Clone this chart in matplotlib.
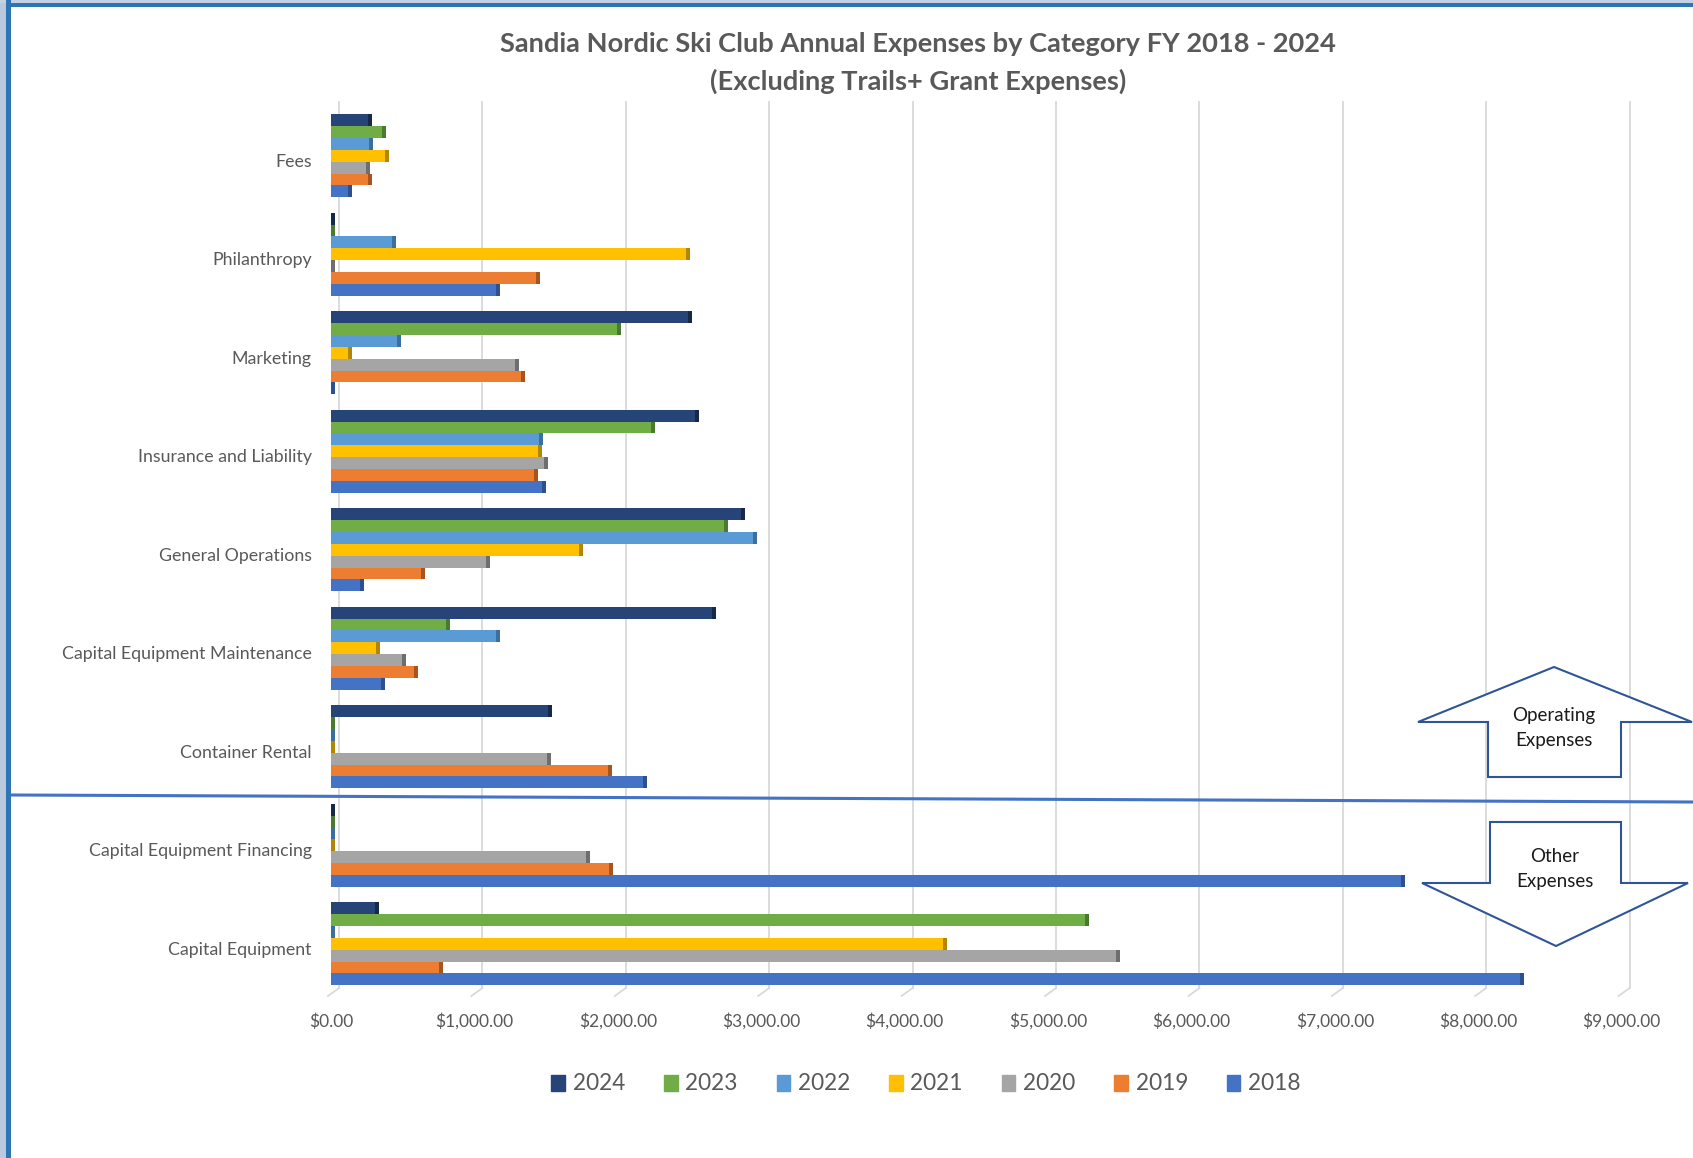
import matplotlib
matplotlib.use("Agg")
import matplotlib.pyplot as plt
import matplotlib.transforms as mtransforms
from matplotlib.patches import Rectangle, Polygon
from matplotlib.lines import Line2D
import numpy as np

# ---------------- data ----------------
categories = ["Fees", "Philanthropy", "Marketing", "Insurance and Liability",
              "General Operations", "Capital Equipment Maintenance",
              "Container Rental", "Capital Equipment Financing", "Capital Equipment"]
years = ["2024", "2023", "2022", "2021", "2020", "2019", "2018"]
v2024 = [256, 0, 2492, 2538, 2858, 2657, 1510, 0, 308]
v2023 = [358, 0, 1994, 2232, 2738, 800, 0, 0, 5255]
v2022 = [267, 425, 460, 1450, 2941, 1149, 0, 0, 0]
v2021 = [378, 2473, 121, 1445, 1729, 314, 0, 0, 4270]
v2020 = [246, 0, 1281, 1485, 1079, 495, 1503, 1778, 5475]
v2019 = [256, 1427, 1327, 1416, 626, 582, 1933, 1939, 750]
v2018 = [121, 1153, 0, 1471, 202, 352, 2176, 7459, 8290]
series = [v2024, v2023, v2022, v2021, v2020, v2019, v2018]
xticks = [0, 1000, 2000, 3000, 4000, 5000, 6000, 7000, 8000, 9000]
xtick_labels = ["$0.00", "$1,000.00", "$2,000.00", "$3,000.00", "$4,000.00",
                "$5,000.00", "$6,000.00", "$7,000.00", "$8,000.00", "$9,000.00"]
title1 = "Sandia Nordic Ski Club Annual Expenses by Category FY 2018 - 2024"
title2 = "(Excluding Trails+ Grant Expenses)"

colors = ["#264478", "#70AD47", "#5B9BD5", "#FFC000", "#A5A5A5", "#ED7D31", "#4472C4"]
side_colors = ["#17294A", "#4A7A2C", "#3A6F9E", "#B38600", "#6E6E6E", "#A9541C", "#2C5090"]

FONT = ["Lato", "DejaVu Sans"]
plt.rcParams["font.family"] = FONT
TEXT_GRAY = "#595959"

W, H = 1693, 1158
fig = plt.figure(figsize=(W / 100, H / 100), dpi=100)
fig.patch.set_facecolor("white")


def fx(x):
    return x / W


def fy(y):
    return 1 - y / H


ax_left, ax_right, ax_top, ax_bottom = 331, 1621.6, 106.5, 993
ax = fig.add_axes([fx(ax_left), fy(ax_bottom), fx(ax_right) - fx(ax_left),
                   (ax_bottom - ax_top) / H])
ax.set_facecolor("none")
ax.set_xlim(0, 9000)
ax.set_ylim(8.5, -0.5)
for s in ax.spines.values():
    s.set_visible(False)

# gridlines (back wall, offset up/right like Excel 3-D)
dpp = 9000 / (ax_right - ax_left)  # dollars per pixel
ah = ax_bottom - ax_top
blend = mtransforms.blended_transform_factory(ax.transData, ax.transAxes)
g_top = (ax_bottom - 102) / ah
g_bot = (ax_bottom - 988) / ah
t_bot = (ax_bottom - 996) / ah
for v in xticks:
    ax.plot([v + 8 * dpp, v + 8 * dpp], [g_bot, g_top], transform=blend,
            color="#D9D9D9", lw=1.3, zorder=0, clip_on=False)
    ax.plot([v - 3 * dpp, v + 8 * dpp], [t_bot, g_bot], transform=blend,
            color="#D9D9D9", lw=1.3, zorder=0, clip_on=False)

# bars
group = 0.843
h = group / len(series)
ypos = np.arange(len(categories))
side = 4 * dpp
for k, (vals, c, sc, yr) in enumerate(zip(series, colors, side_colors, years)):
    y = ypos - group / 2 + h * (k + 0.5)
    ax.barh(y, vals, height=h, color=c, edgecolor="none", zorder=2, label=yr)
    ax.barh(y, [side] * len(vals), left=vals, height=h, color=sc,
            edgecolor="none", zorder=2)

ax.set_xticks(xticks)
ax.set_xticklabels(xtick_labels)
ax.set_yticks(ypos)
ax.set_yticklabels(categories)
ax.tick_params(axis="x", length=0, pad=14.5, labelsize=12.5, labelcolor=TEXT_GRAY)
ax.tick_params(axis="y", length=0, pad=14, labelsize=12.8, labelcolor=TEXT_GRAY)
shift = mtransforms.ScaledTranslation(0, -0.045, fig.dpi_scale_trans)
for lab in ax.get_yticklabels():
    lab.set_transform(lab.get_transform() + shift)

# title
fig.text(fx(918), fy(44), title1, ha="center", va="center", fontsize=19.6,
         fontweight="bold", color=TEXT_GRAY)
fig.text(fx(918), fy(81), title2, ha="center", va="center", fontsize=19.6,
         fontweight="bold", color=TEXT_GRAY)

# legend
handles = [Rectangle((0, 0), 1, 1, color=c) for c in colors]
fig.legend(handles, years, loc="center", bbox_to_anchor=(fx(926), fy(1084)),
           ncol=7, frameon=False, fontsize=16.3, labelcolor=TEXT_GRAY,
           handlelength=0.6, handleheight=0.7, handletextpad=0.34,
           columnspacing=1.72)

# separator line
fig.add_artist(Line2D([fx(11), fx(1693)], [fy(795), fy(802)], color="#4472C4",
                      lw=2.2, transform=fig.transFigure, zorder=5))

# arrows
up = [(1554, 667), (1692, 722), (1621, 722), (1621, 777), (1488, 777),
      (1488, 722), (1418, 722)]
down = [(1490, 822), (1621, 822), (1621, 883), (1688, 883), (1556, 946),
        (1422, 883), (1490, 883)]
for pts in (up, down):
    fig.add_artist(Polygon([(fx(x), fy(y)) for x, y in pts], closed=True,
                           transform=fig.transFigure, facecolor="white",
                           edgecolor="#2F5597", lw=1.5, zorder=6))
fig.text(fx(1554), fy(728), "Operating\nExpenses", ha="center", va="center",
         fontsize=13.5, color="#1A1A1A", linespacing=1.55, zorder=7)
fig.text(fx(1555), fy(869), "Other\nExpenses", ha="center", va="center",
         fontsize=13.5, color="#1A1A1A", linespacing=1.55, zorder=7)

# window frame
fig.add_artist(Rectangle((0, 0), fx(6), 1, transform=fig.transFigure,
                         facecolor="#B9CADF", edgecolor="none", zorder=8))
fig.add_artist(Rectangle((0, fy(3)), 1, 3 / H, transform=fig.transFigure,
                         facecolor="#C3D2E4", edgecolor="none", zorder=8))
fig.add_artist(Rectangle((fx(6), 0), 5 / W, 1, transform=fig.transFigure,
                         facecolor="#2E75B6", edgecolor="none", zorder=9))
fig.add_artist(Rectangle((fx(6), fy(7.3)), 1, 4.3 / H, transform=fig.transFigure,
                         facecolor="#2E75B6", edgecolor="none", zorder=9))

fig.savefig("out.png", dpi=100)
